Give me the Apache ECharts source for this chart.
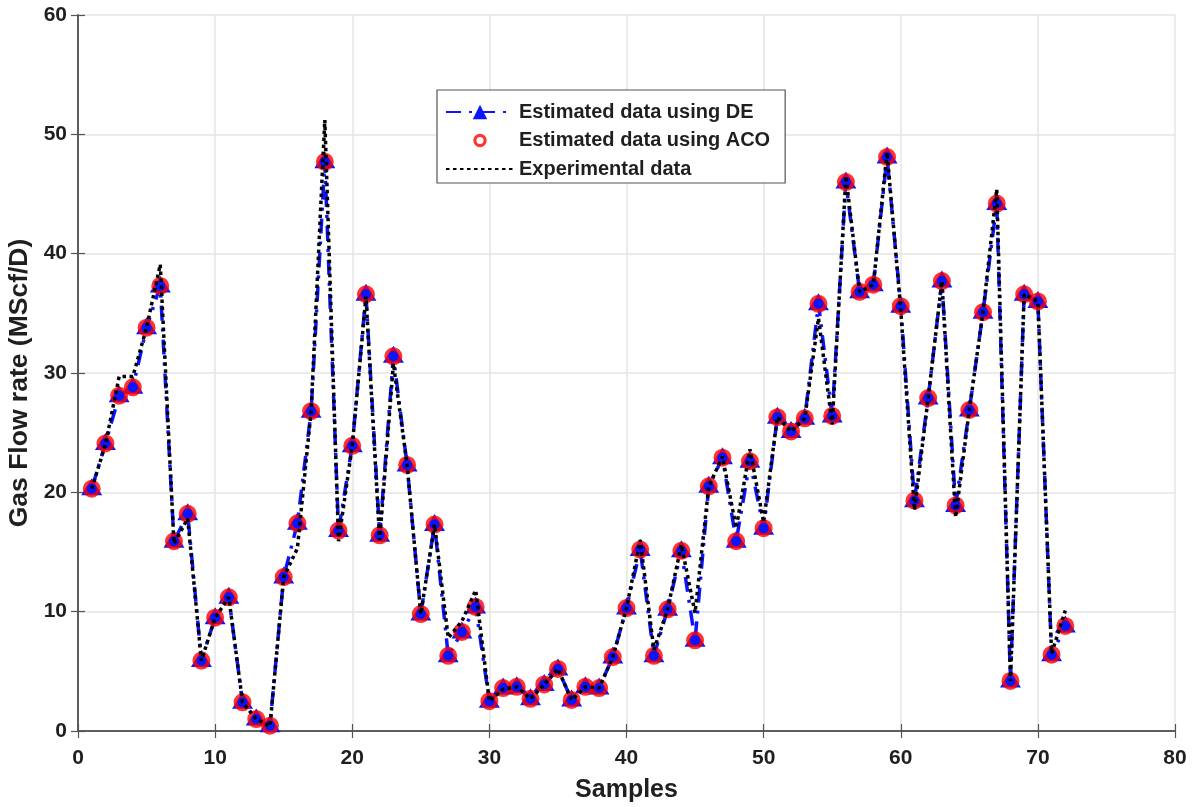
<!DOCTYPE html>
<html>
<head>
<meta charset="utf-8">
<script src="https://cdn.jsdelivr.net/npm/echarts@6/dist/echarts.min.js"></script>
<style>
  html, body { margin: 0; padding: 0; background: #fff; }
  #chart { width: 1199px; height: 807px; }
</style>
</head>
<body>
<div id="chart"></div>
<script>
// Sample numbers along the x axis
const samples = [
  1, 2, 3, 4, 5, 6, 7, 8, 9, 10, 11, 12, 13, 14, 15, 16, 17, 18,
  19, 20, 21, 22, 23, 24, 25, 26, 27, 28, 29, 30, 31, 32, 33, 34, 35, 36,
  37, 38, 39, 40, 41, 42, 43, 44, 45, 46, 47, 48, 49, 50, 51, 52, 53, 54,
  55, 56, 57, 58, 59, 60, 61, 62, 63, 64, 65, 66, 67, 68, 69, 70, 71, 72
];

// Gas flow rate estimated by differential evolution (MScf/D)
const estimatedDE = [
  20.3, 24.1, 28.1, 28.8, 33.8, 37.3, 15.9, 18.2, 5.9, 9.5, 11.2, 2.4, 1.0, 0.45, 12.9, 17.4, 26.8, 47.7,
  16.8, 23.9, 36.6, 16.4, 31.4, 22.3, 9.8, 17.3, 6.3, 8.3, 10.4, 2.5, 3.6, 3.7, 2.7, 3.9, 5.2, 2.6,
  3.7, 3.6, 6.2, 10.3, 15.2, 6.3, 10.2, 15.1, 7.6, 20.5, 22.9, 15.9, 22.6, 17.0, 26.3, 25.1, 26.2, 35.8,
  26.4, 46.0, 36.8, 37.4, 48.1, 35.6, 19.3, 27.9, 37.7, 18.9, 26.9, 35.1, 44.2, 4.2, 36.6, 36.0, 6.4, 8.8
];

// Gas flow rate estimated by ant colony optimisation (MScf/D)
const estimatedACO = [
  20.3, 24.1, 28.1, 28.8, 33.8, 37.3, 15.9, 18.2, 5.9, 9.5, 11.2, 2.4, 1.0, 0.45, 12.9, 17.4, 26.8, 47.7,
  16.8, 23.9, 36.6, 16.4, 31.4, 22.3, 9.8, 17.3, 6.3, 8.3, 10.4, 2.5, 3.6, 3.7, 2.7, 3.9, 5.2, 2.6,
  3.7, 3.6, 6.2, 10.3, 15.2, 6.3, 10.2, 15.1, 7.6, 20.5, 22.9, 15.9, 22.6, 17.0, 26.3, 25.1, 26.2, 35.8,
  26.4, 46.0, 36.8, 37.4, 48.1, 35.6, 19.3, 27.9, 37.7, 18.9, 26.9, 35.1, 44.2, 4.2, 36.6, 36.0, 6.4, 8.8
];

// Measured gas flow rate (MScf/D)
const experimental = [
  20.3, 24.0, 29.7, 29.7, 33.8, 39.1, 15.7, 17.8, 5.9, 9.5, 11.2, 2.4, 1.0, 0.4, 12.9, 15.3, 26.8, 51.2,
  15.9, 23.9, 36.4, 16.0, 30.8, 22.3, 9.8, 17.3, 7.8, 9.2, 11.8, 2.5, 3.5, 3.7, 2.7, 3.9, 5.2, 2.6,
  3.7, 3.6, 6.2, 10.3, 16.0, 6.8, 10.2, 15.6, 9.9, 20.5, 23.0, 17.0, 23.6, 17.5, 26.3, 25.1, 26.2, 34.6,
  25.7, 46.5, 36.8, 37.4, 48.5, 35.3, 18.5, 27.9, 37.7, 17.9, 26.9, 35.1, 45.4, 4.2, 36.6, 36.0, 6.5, 10.1
];

// Axis ranges and tick spacing
const xRange = [0, 80, 10];
const yRange = [0, 60, 10];

const pairs = (vals) => samples.map((s, i) => [s, vals[i]]);

const FONT = '"Liberation Sans", Arial, sans-serif';
const TEXT = '#1f1f1f';
const AXIS = '#555555';
const GRID = '#e4e4e4';

// Ring icon for the ACO legend entry (outer/inner circles wound in opposite directions,
// padded by two move-to points so it sits smaller than the legend item box)
const RING_ICON = 'path://M0,0M20,20M10,2.6A7.4,7.4,0,1,1,9.99,2.6ZM10,6.1A3.9,3.9,0,1,0,10.01,6.1Z';

const chart = echarts.init(document.getElementById('chart'), null, { renderer: 'canvas' });

const baseX = { type: 'value', min: xRange[0], max: xRange[1], interval: xRange[2] };
const baseY = { type: 'value', min: yRange[0], max: yRange[1], interval: yRange[2] };
const frameLine = { show: true, lineStyle: { color: AXIS, width: 1.5 } };
const innerTick = { show: true, inside: true, length: 7, lineStyle: { color: AXIS, width: 1.2 } };

chart.setOption({
  backgroundColor: '#ffffff',
  animation: false,
  grid: {
    left: 78, right: 24, top: 15, bottom: 76,
    containLabel: false,
    outerBoundsMode: 'none'
  },
  xAxis: [
    Object.assign({}, baseX, {
      position: 'bottom',
      name: 'Samples',
      nameLocation: 'middle',
      nameGap: 47,
      nameTextStyle: { fontFamily: FONT, fontWeight: 'bold', fontSize: 25, color: TEXT },
      axisLine: frameLine,
      axisTick: innerTick,
      axisLabel: { fontFamily: FONT, fontWeight: 'bold', fontSize: 21, color: TEXT, margin: 17 },
      splitLine: { show: true, lineStyle: { color: GRID, width: 1.5 } }
    }),
    Object.assign({}, baseX, {
      position: 'top',
      axisLine: frameLine,
      axisTick: innerTick,
      axisLabel: { show: false },
      splitLine: { show: false }
    })
  ],
  yAxis: [
    Object.assign({}, baseY, {
      position: 'left',
      name: 'Gas Flow rate (MScf/D)',
      nameLocation: 'middle',
      nameGap: 44,
      nameTextStyle: {
        fontFamily: FONT, fontWeight: 'bold', fontSize: 26.5, color: TEXT,
        padding: [0, 20, 0, 0]
      },
      axisLine: frameLine,
      axisTick: innerTick,
      axisLabel: { fontFamily: FONT, fontWeight: 'bold', fontSize: 21, color: TEXT, margin: 11 },
      splitLine: { show: true, lineStyle: { color: GRID, width: 1.5 } }
    }),
    Object.assign({}, baseY, {
      position: 'right',
      axisLine: frameLine,
      axisTick: innerTick,
      axisLabel: { show: false },
      splitLine: { show: false }
    })
  ],
  legend: {
    orient: 'vertical',
    left: 437,
    top: 90,
    padding: [12, 15, 4, 8],
    itemGap: 8.5,
    itemWidth: 68,
    itemHeight: 18,
    borderColor: '#555',
    borderWidth: 1.2,
    borderRadius: 0,
    backgroundColor: '#ffffff',
    textStyle: { fontFamily: FONT, fontWeight: 'bold', fontSize: 20, color: TEXT },
    data: [
      { name: 'Estimated data using DE' },
      { name: 'Estimated data using ACO', icon: RING_ICON,
        itemStyle: { color: '#ff0000', borderWidth: 0 } },
      { name: 'Experimental data', itemStyle: { opacity: 0 } }
    ]
  },
  series: [
    {
      name: 'Estimated data using DE',
      type: 'line',
      xAxisIndex: 0, yAxisIndex: 0,
      data: pairs(estimatedDE),
      symbol: 'triangle',
      symbolSize: [21, 17],
      symbolOffset: [0, -2],
      showAllSymbol: true,
      itemStyle: { color: '#0a14ff', borderWidth: 0 },
      lineStyle: { color: '#0a14ff', width: 3.5, type: [15, 8, 3, 8] },
      z: 2
    },
    {
      name: 'Estimated data using ACO',
      type: 'scatter',
      xAxisIndex: 0, yAxisIndex: 0,
      data: pairs(estimatedACO),
      symbol: 'circle',
      symbolSize: 14,
      itemStyle: { color: 'rgba(255,255,255,0)', borderColor: '#ff0000', borderWidth: 4 },
      z: 3
    },
    {
      name: 'Experimental data',
      type: 'line',
      xAxisIndex: 0, yAxisIndex: 0,
      data: pairs(experimental),
      symbol: 'none',
      itemStyle: { color: '#000000' },
      lineStyle: { color: '#000000', width: 3.5, type: [3.5, 3.5] },
      z: 4
    }
  ]
});
</script>
</body>
</html>
